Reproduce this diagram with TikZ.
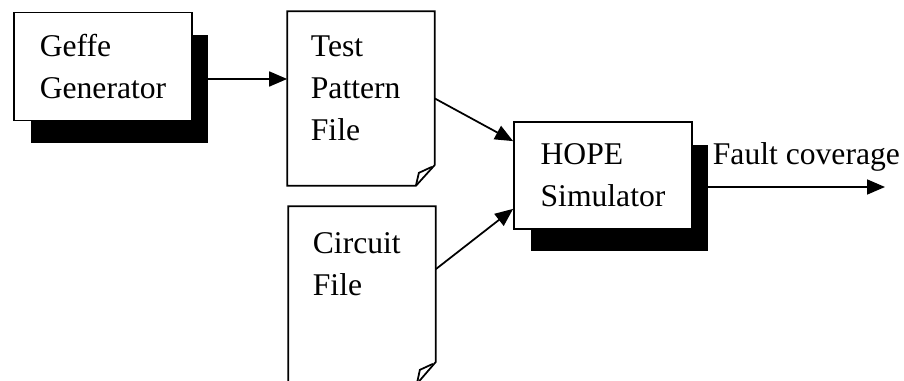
\documentclass[tikz,border=0pt]{standalone}
\usepackage{fontspec}
\setmainfont{Liberation Serif}
\usetikzlibrary{shadows,arrows.meta}

\begin{document}
\begin{tikzpicture}[x=0.02cm, y=-0.02cm, line width=1pt,
	every node/.style={font=\fontsize{18}{24}\selectfont},
	blockbox/.style={draw, rectangle, fill=white, align=left, minimum width=3.56cm,
		drop shadow={shadow xshift=0.33cm, shadow yshift=-0.45cm, fill=black, opacity=1}},
	filebox/.style={rectangle, minimum width=2.92cm, inner sep=0pt},
	flow/.style={-{Triangle[length=0.36cm, width=0.3cm]}}]
	
	\useasboundingbox (0,0) rectangle (904,381);
	
	%Geffe generator
	\node (geffe) at (103,66.5) [blockbox, minimum height=2.16cm]{Geffe\\Generator};
	
	%Test pattern file
	\node (patfile) at (361,98.5) [filebox, minimum height=3.46cm]{};
	\draw (patfile.north west) -- (patfile.north east) -- ([yshift=0.42cm]patfile.south east)
	-- ([xshift=-0.38cm]patfile.south east) -- (patfile.south west) -- cycle;
	\draw ([xshift=-0.38cm]patfile.south east) -- ([xshift=-0.32cm, yshift=0.26cm]patfile.south east)
	-- ([xshift=-0.06cm, yshift=0.38cm]patfile.south east);
	\node (patlbl) at (310,35) [anchor=north west, inner sep=0pt, align=left]{Test\\Pattern\\File};
	
	%Circuit file
	\node (cirfile) at (362,295) [filebox, minimum height=3.52cm]{};
	\draw (cirfile.north west) -- (cirfile.north east) -- ([yshift=0.44cm]cirfile.south east)
	-- ([xshift=-0.38cm]cirfile.south east) -- (cirfile.south west) -- cycle;
	\draw ([xshift=-0.38cm]cirfile.south east) -- ([xshift=-0.32cm, yshift=0.28cm]cirfile.south east)
	-- ([xshift=-0.06cm, yshift=0.4cm]cirfile.south east);
	\node (cirlbl) at (312,232) [anchor=north west, inner sep=0pt, align=left]{Circuit\\File};
	
	%HOPE simulator
	\node (hope) at (603,175.5) [blockbox, minimum height=2.14cm]{HOPE\\Simulator};
	
	%Output
	\coordinate (out) at (885,187);
	\node (fcov) at (712,165) [anchor=base west, inner sep=0pt]{Fault coverage};
	
	%Connections
	\draw[flow] ([yshift=-0.25cm]geffe.east) -- ([yshift=-0.25cm]geffe.east -| patfile.west);
	\draw[flow] (patfile.east) -- ([yshift=-0.4cm]hope.north west);
	\draw[flow] ([yshift=-1.26cm]cirfile.north east) -- ([yshift=0.42cm]hope.south west);
	\draw[flow] ([yshift=-0.23cm]hope.east) -- (out);
	
\end{tikzpicture}
\end{document}
